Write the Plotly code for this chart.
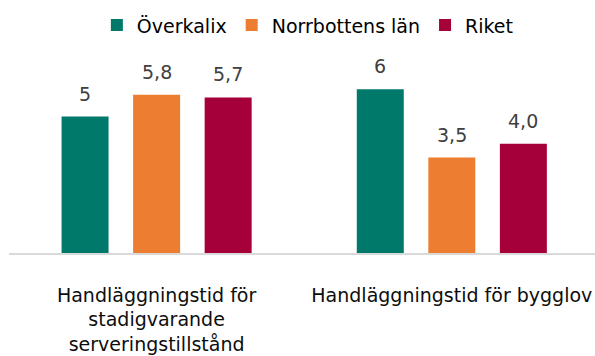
import plotly.graph_objects as go

# Data
categories = [
    "Handläggningstid för<br>stadigvarande<br>serveringstillstånd",
    "Handläggningstid för bygglov",
]
series_names = ["Överkalix", "Norrbottens län", "Riket"]
values_overkalix = [5, 6]
values_norrbotten = [5.8, 3.5]
values_riket = [5.7, 4.0]
value_labels_overkalix = ["5", "6"]
value_labels_norrbotten = ["5,8", "3,5"]
value_labels_riket = ["5,7", "4,0"]

colors = ["#00796A", "#ED7D31", "#A6003A"]
FONT = "DejaVu Sans, Verdana, sans-serif"

series_values = [values_overkalix, values_norrbotten, values_riket]
series_labels = [value_labels_overkalix, value_labels_norrbotten, value_labels_riket]

BARGAP = 0.273
GROUPGAP = 0.343
x_pos = list(range(len(categories)))

fig = go.Figure()
for name, vals, col in zip(series_names, series_values, colors):
    fig.add_trace(go.Bar(
        x=x_pos, y=vals, name=name,
        marker=dict(color=col, line=dict(width=0)),
        hoverinfo="skip",
    ))

# Value labels above each bar, centred on the bar's slot within the group
n = len(series_names)
slot = (1 - BARGAP) / n
annotations = []
for j, (vals, labs) in enumerate(zip(series_values, series_labels)):
    for i, (v, lab) in enumerate(zip(vals, labs)):
        annotations.append(dict(
            x=i + (j - (n - 1) / 2) * slot, y=v, xref="x", yref="y",
            text=lab, showarrow=False, yanchor="bottom", yshift=10,
            font=dict(family=FONT, size=19, color="#404040"),
        ))

fig.update_layout(
    width=595, height=356,
    margin=dict(l=9, r=0, t=50, b=103),
    paper_bgcolor="white", plot_bgcolor="white",
    barmode="group", bargap=BARGAP, bargroupgap=GROUPGAP,
    showlegend=True,
    legend=dict(
        orientation="h", x=0.51, xanchor="center", y=1.122, yanchor="middle",
        font=dict(family=FONT, size=19, color="#000000"),
        itemwidth=30, traceorder="normal",
    ),
    xaxis=dict(
        range=[-0.5, 1.485], tickmode="array", tickvals=x_pos, ticktext=categories,
        showline=True, linecolor="#D9D9D9", linewidth=1.5,
        showgrid=False, zeroline=False, ticks="",
        ticklabelstandoff=24,
        tickfont=dict(family=FONT, size=19, color="#0D0D0D"),
        automargin=False,
    ),
    yaxis=dict(range=[0, 7.44], visible=False, showgrid=False, zeroline=False),
    annotations=annotations,
)

fig.write_html("out.html")
